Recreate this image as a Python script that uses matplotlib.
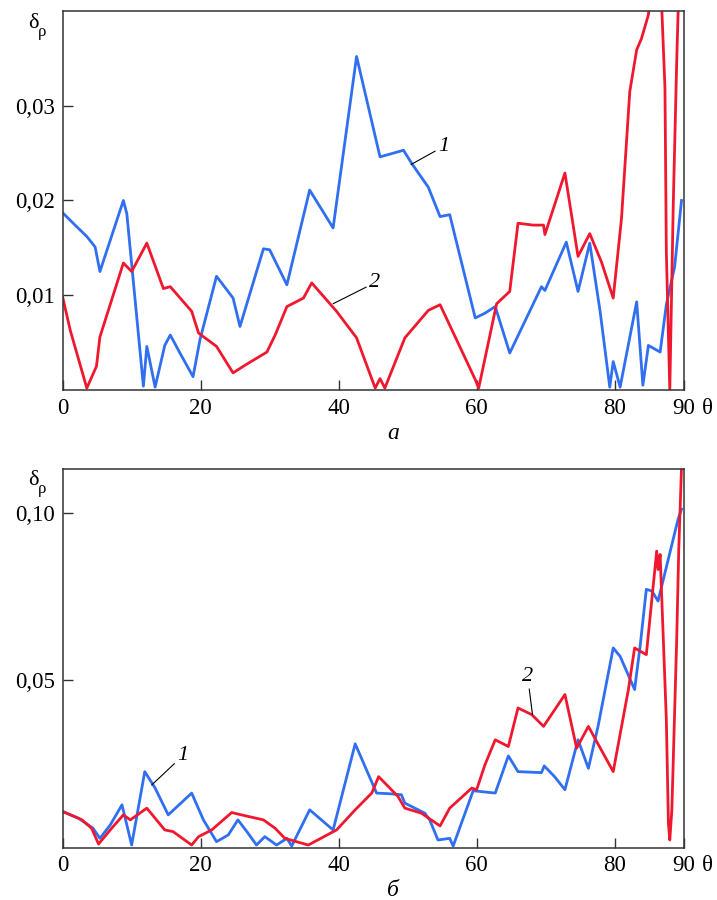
import matplotlib
matplotlib.use("Agg")
import matplotlib.pyplot as plt

plt.rcParams['font.family'] = ['Liberation Serif', 'DejaVu Serif']

#--------------------------------- data ---------------------------------
# panel a, curve 1 (blue)
theta_a1 = [0, 1.8, 3.5, 4.7, 5.4, 8.8, 9.3, 11.7, 12.2, 13.4, 14.8, 15.6, 17.0, 18.9, 19.9,
            22.3, 24.7, 25.7, 29.1, 30.0, 32.5, 35.8, 39.2, 42.6, 46.0, 49.4, 50.6, 53.0, 54.7,
            56.1, 59.8, 61.2, 62.7, 64.8, 69.4, 69.9, 73.0, 74.7, 76.4, 77.9, 79.3, 79.8, 80.8,
            83.2, 84.1, 84.9, 86.6, 87.5, 88.7, 89.7]
delta_a1 = [0.0187, 0.0174, 0.0162, 0.0151, 0.0125, 0.0200, 0.0186, 0.0004, 0.0046, 0.0003,
            0.0047, 0.0058, 0.0039, 0.0014, 0.0053, 0.0120, 0.0097, 0.0067, 0.0149, 0.0148,
            0.0111, 0.0211, 0.0171, 0.0352, 0.0246, 0.0253, 0.0239, 0.0214, 0.0183, 0.0185,
            0.0076, 0.0081, 0.0088, 0.0039, 0.0109, 0.0105, 0.0156, 0.0104, 0.0155, 0.0083,
            0.0003, 0.0030, 0.0003, 0.0093, 0.0005, 0.0047, 0.0040, 0.0090, 0.0130, 0.0200]

# panel a, curve 2 (red)
theta_a2 = [0, 1.1, 3.5, 4.9, 5.4, 8.8, 10.0, 12.2, 14.6, 15.6, 18.7, 19.7, 22.3, 24.7, 26.4,
            29.6, 30.8, 32.5, 34.9, 36.1, 39.7, 42.6, 45.3, 46.0, 46.7, 49.6, 53.0, 54.7, 56.9,
            59.8, 60.3, 62.9, 64.8, 66.0, 68.2, 69.7, 69.9, 72.8, 74.7, 76.4, 78.1, 79.8, 81.0,
            82.2, 83.2, 83.9, 84.9, 86.0, 86.8, 87.3, 87.5, 88.0, 88.5, 89.0, 89.6]
delta_a2 = [0.0098, 0.0063, 0.0002, 0.0025, 0.0056, 0.0134, 0.0125, 0.0155, 0.0107, 0.0109,
            0.0083, 0.0060, 0.0046, 0.0018, 0.0026, 0.0040, 0.0058, 0.0088, 0.0097, 0.0113,
            0.0083, 0.0055, 0.0002, 0.0012, 0.0002, 0.0055, 0.0084, 0.0090, 0.0056, 0.0011,
            0.0002, 0.0091, 0.0104, 0.0176, 0.0174, 0.0174, 0.0164, 0.0229, 0.0141, 0.0165,
            0.0135, 0.0097, 0.0181, 0.0315, 0.0359, 0.0371, 0.0396, 0.0480, 0.0410, 0.0319,
            0.0146, 0.0000, 0.0195, 0.0346, 0.0500]

# panel b, curve 1 (blue)
theta_b1 = [0, 2.3, 4.4, 5.4, 6.9, 8.6, 10.0, 11.9, 13.4, 15.3, 18.7, 20.4, 22.3, 24.0, 25.4,
            26.7, 28.1, 29.3, 31.0, 32.5, 33.2, 35.8, 39.2, 42.4, 45.5, 47.4, 49.1, 49.6, 52.5,
            53.2, 54.4, 56.1, 56.6, 59.5, 62.7, 64.6, 66.0, 69.4, 69.8, 71.3, 72.8, 74.7, 76.2,
            77.6, 79.8, 80.8, 82.9, 83.7, 84.6, 85.4, 86.3, 89.2, 89.7]
delta_b1 = [0.0108, 0.0088, 0.0058, 0.0028, 0.0068, 0.0128, 0.0008, 0.0227, 0.0178, 0.0098,
            0.0163, 0.0083, 0.0018, 0.0038, 0.0083, 0.0048, 0.0008, 0.0033, 0.0008, 0.0028,
            0.0005, 0.0113, 0.0053, 0.0310, 0.0163, 0.0161, 0.0158, 0.0133, 0.0103, 0.0083,
            0.0023, 0.0028, 0.0005, 0.0170, 0.0163, 0.0274, 0.0227, 0.0224, 0.0244, 0.0212,
            0.0173, 0.0322, 0.0237, 0.0362, 0.0596, 0.0571, 0.0472, 0.0601, 0.0771, 0.0766,
            0.0736, 0.0980, 0.1010]

# panel b, curve 2 (red)
theta_b2 = [0, 2.8, 4.2, 5.2, 7.1, 8.8, 9.8, 12.2, 14.8, 16.0, 18.7, 19.7, 21.6, 24.5, 25.9,
            29.1, 30.8, 32.2, 35.6, 39.7, 42.4, 44.8, 45.8, 48.6, 49.6, 52.0, 54.7, 56.1, 59.3,
            60.0, 61.2, 62.7, 64.6, 66.0, 68.0, 69.7, 72.8, 74.5, 76.2, 79.8, 82.0, 82.9, 84.6,
            86.1, 86.3, 86.6, 87.5, 87.8, 88.0, 88.3, 89.0, 89.3, 89.7]
delta_b2 = [0.0108, 0.0083, 0.0058, 0.0011, 0.0058, 0.0098, 0.0083, 0.0118, 0.0053, 0.0048,
            0.0008, 0.0033, 0.0053, 0.0105, 0.0098, 0.0083, 0.0058, 0.0028, 0.0008, 0.0053,
            0.0113, 0.0163, 0.0212, 0.0153, 0.0118, 0.0103, 0.0065, 0.0118, 0.0178, 0.0173,
            0.0247, 0.0322, 0.0302, 0.0417, 0.0397, 0.0362, 0.0457, 0.0297, 0.0362, 0.0227,
            0.0472, 0.0596, 0.0576, 0.0885, 0.0830, 0.0875, 0.0382, 0.0073, 0.0023, 0.0113,
            0.0621, 0.0890, 0.1135]

x_ticks = [0, 20, 40, 60, 80, 90]
x_labels = ['0', '20', '40', '60', '80', '90']
y_ticks_a = [0.01, 0.02, 0.03]
y_labels_a = ['0,01', '0,02', '0,03']
y_ticks_b = [0.05, 0.10]
y_labels_b = ['0,05', '0,10']

BLUE = '#2f6ff0'
RED = '#f0182f'
SPINE = '#333333'

fig = plt.figure(figsize=(7.17, 9.0), dpi=100)
ax_a = fig.add_axes([0.0874, 0.5667, 0.8660, 0.4211])
ax_b = fig.add_axes([0.0874, 0.0581, 0.8660, 0.4208])

#-------------------------------- common axis styling --------------------------------
def style_axis(ax, ymax, yticks, ylabels):
    ax.set_xlim(0, 90)
    ax.set_ylim(0, ymax)
    ax.set_xticks(x_ticks)
    ax.set_xticklabels(x_labels)
    ax.set_yticks(yticks)
    ax.set_yticklabels(ylabels)
    ax.tick_params(direction='in', length=7, width=1, color=SPINE,
                   labelsize=16.5, pad=5.5)
    for s in ax.spines.values():
        s.set_color(SPINE)
        s.set_linewidth(1.1)
    # theta after the "90" label
    ax.annotate('θ', xy=(1, 0), xycoords='axes fraction', xytext=(13.5, -5.5),
                textcoords='offset points', ha='left', va='top', fontsize=16.5)

style_axis(ax_a, 0.04, y_ticks_a, y_labels_a)
style_axis(ax_b, 0.113, y_ticks_b, y_labels_b)

ax_a.plot(theta_a1, delta_a1, color=BLUE, lw=2.0)
ax_a.plot(theta_a2, delta_a2, color=RED, lw=2.0)
ax_b.plot(theta_b1, delta_b1, color=BLUE, lw=2.0)
ax_b.plot(theta_b2, delta_b2, color=RED, lw=2.0)

# curve numbers with leader lines
lead = dict(arrowstyle='-', color='black', lw=0.8, shrinkA=0, shrinkB=0)
ax_a.annotate('1', xy=(50.5, 0.0238), xytext=(54.4, 0.0257), arrowprops=lead,
              fontsize=16, style='italic', ha='left', va='center')
ax_a.annotate('2', xy=(39.2, 0.0091), xytext=(44.4, 0.0113), arrowprops=lead,
              fontsize=16, style='italic', ha='left', va='center')
ax_b.annotate('1', xy=(12.9, 0.0187), xytext=(16.6, 0.0246), arrowprops=lead,
              fontsize=16, style='italic', ha='left', va='bottom')
ax_b.annotate('2', xy=(68.1, 0.0397), xytext=(67.4, 0.0482), arrowprops=lead,
              fontsize=16, style='italic', ha='center', va='bottom')

# y axis symbol, outside the frame
for ytop in (0.969, 0.461):
    fig.text(0.039, ytop, 'δ', fontsize=16, ha='left', va='baseline')
    fig.text(0.053, ytop - 0.009, 'ρ', fontsize=12, ha='left', va='baseline')

# panel captions
fig.text(0.548, 0.512, 'а', fontsize=17, style='italic', ha='center', va='baseline')
fig.text(0.548, 0.004, 'б', fontsize=17, style='italic', ha='center', va='baseline')

fig.savefig('out.png', dpi=100)
